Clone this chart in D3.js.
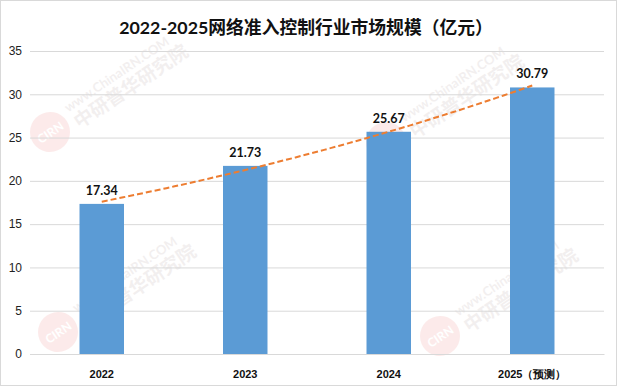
<!DOCTYPE html>
<html>
<head>
<meta charset="utf-8">
<script src="https://cdn.jsdelivr.net/npm/d3@7"></script>
<style>
  body { margin: 0; background: #fff; }
  svg { display: block; font-family: Lato, "Noto Sans CJK SC", sans-serif; }
</style>
</head>
<body>
<script>
const years = ['2022', '2023', '2024', '2025（预测）'];
const values = [17.34, 21.73, 25.67, 30.79];
const yTicks = [0, 5, 10, 15, 20, 25, 30, 35];
const chartTitle = '2022-2025网络准入控制行业市场规模（亿元）';

const w = 619;
const h = 388;
const margin = { top: 51, right: 15, bottom: 34, left: 30 };

const svg = d3.select('body')
  .append('svg')
  .attr('width', w)
  .attr('height', h);

//outer frame
svg.append('rect')
  .attr('x', 0.5).attr('y', 0.5)
  .attr('width', w - 3).attr('height', h - 3)
  .attr('fill', '#fff')
  .attr('stroke', '#d9d9d9');

const xScale = d3.scaleBand()
  .domain(years)
  .range([margin.left, w - margin.right])
  .paddingInner(0.69)
  .paddingOuter(0.345);

const yScale = d3.scaleLinear()
  .domain([0, 35])
  .range([h - margin.bottom, margin.top]);

//faint watermarks
const marks = [[50, 132], [386, 142], [58, 332], [440, 336]];
marks.forEach(([cx, cy]) => {
  const g = svg.append('g').attr('transform', `translate(${cx},${cy}) rotate(-34)`).attr('opacity', 0.1);
  g.append('circle').attr('r', 20).attr('fill', '#e8403a');
  g.append('text').attr('x', 0).attr('y', 5).attr('text-anchor', 'middle')
    .attr('fill', '#fff').style('font-size', '12px').style('font-weight', 'bold').text('CIRN');
  g.append('text').attr('x', 26).attr('y', -6)
    .attr('fill', '#8a6a6a').style('font-size', '13px').style('font-weight', 'bold').text('www.ChinaIRN.COM');
  g.append('text').attr('x', 26).attr('y', 14)
    .attr('fill', '#8a6a6a').style('font-size', '19px').style('font-weight', 'bold').text('中研普华研究院');
});

//gridlines and y axis
const yAxis = d3.axisLeft(yScale)
  .tickValues(yTicks)
  .tickSize(-(w - margin.left - margin.right))
  .tickPadding(8);

svg.append('g')
  .attr('transform', `translate(${margin.left},0)`)
  .call(yAxis)
  .call(g => g.select('.domain').remove())
  .call(g => g.selectAll('.tick line').attr('stroke', '#d9d9d9'))
  .call(g => g.selectAll('.tick text').attr('fill', '#222').style('font-size', '12px'));

//bars
svg.selectAll('rect.bar')
  .data(values)
  .enter()
  .append('rect')
  .attr('class', 'bar')
  .attr('x', (d, i) => xScale(years[i]))
  .attr('y', d => yScale(d))
  .attr('width', xScale.bandwidth())
  .attr('height', d => yScale(0) - yScale(d))
  .attr('fill', '#5b9bd5');

//x axis
const xAxis = d3.axisBottom(xScale).tickSize(0).tickPadding(16);
svg.append('g')
  .attr('transform', `translate(0,${yScale(0)})`)
  .call(xAxis)
  .call(g => g.select('.domain').attr('stroke', '#d9d9d9'))
  .call(g => g.selectAll('.tick text').attr('fill', '#111')
    .style('font-size', '11px').style('font-weight', 'bold'));

//exponential trendline fitted to the values
const xs = values.map((d, i) => i + 1);
const lys = values.map(d => Math.log(d));
const mx = d3.mean(xs);
const my = d3.mean(lys);
const slope = d3.sum(xs, (x, i) => (x - mx) * (lys[i] - my)) / d3.sum(xs, x => (x - mx) * (x - mx));
const icpt = my - slope * mx;
const centre = d3.scaleLinear()
  .domain([1, values.length])
  .range([xScale(years[0]) + xScale.bandwidth() / 2, xScale(years[years.length - 1]) + xScale.bandwidth() / 2]);
const trendPts = d3.range(1, values.length + 0.001, 0.05).map(t => [centre(t), yScale(Math.exp(icpt + slope * t))]);

svg.append('path')
  .datum(trendPts)
  .attr('d', d3.line())
  .attr('fill', 'none')
  .attr('stroke', '#ed7d31')
  .attr('stroke-width', 2)
  .attr('stroke-dasharray', '6,3');

//data labels
svg.selectAll('text.val')
  .data(values)
  .enter()
  .append('text')
  .attr('class', 'val')
  .attr('x', (d, i) => xScale(years[i]) + xScale.bandwidth() / 2)
  .attr('y', d => yScale(d) - 9)
  .attr('text-anchor', 'middle')
  .style('font-size', '12.5px')
  .style('font-weight', 'bold')
  .attr('fill', '#111')
  .text(d => d.toFixed(2));

//title
svg.append('text')
  .attr('x', 306)
  .attr('y', 34)
  .attr('text-anchor', 'middle')
  .style('font-size', '17.8px')
  .style('font-weight', 'bold')
  .attr('fill', '#111')
  .text(chartTitle);
</script>
</body>
</html>
